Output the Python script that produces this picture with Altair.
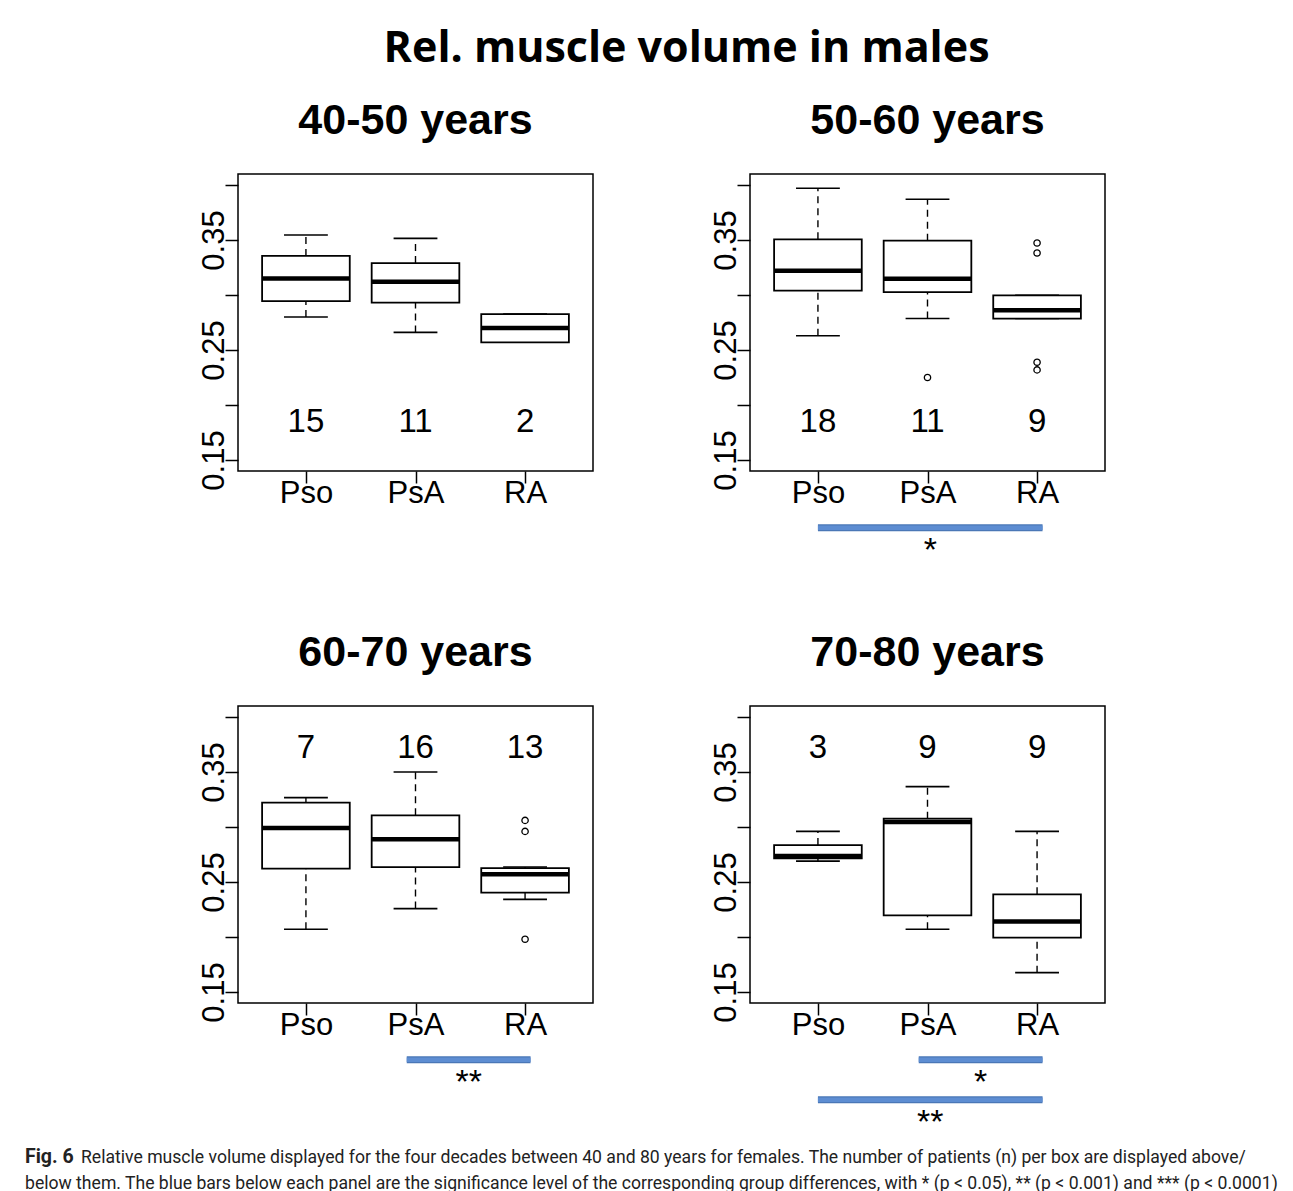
import json
import altair as alt
import pandas as pd

# ---------------- data ----------------
TITLE = "Rel. muscle volume in males"
PANELS = ["40-50 years", "50-60 years", "60-70 years", "70-80 years"]
GROUPS = ["Pso", "PsA", "RA"]

# per panel, per group (Pso, PsA, RA)
WHISK_LO = [[0.280, 0.266, 0.257], [0.263, 0.2786, 0.2786], [0.207, 0.2258, 0.2342], [0.269, 0.207, 0.1676]]
Q1 = [[0.2945, 0.293, 0.257], [0.304, 0.3027, 0.2786], [0.2621, 0.2636, 0.2403], [0.2715, 0.2197, 0.1994]]
MEDIAN = [[0.315, 0.312, 0.270], [0.322, 0.3148, 0.2861], [0.299, 0.2888, 0.257], [0.2736, 0.3045, 0.2142]]
Q3 = [[0.3355, 0.329, 0.2827], [0.3506, 0.3494, 0.2997], [0.3221, 0.3106, 0.2627], [0.2836, 0.3076, 0.2388]]
WHISK_HI = [[0.3545, 0.3515, 0.2827], [0.397, 0.387, 0.2997], [0.3267, 0.350, 0.2636], [0.296, 0.3367, 0.296]]
OUTLIER_GROUP = [[], ["PsA", "RA", "RA", "RA", "RA"], ["RA", "RA", "RA"], []]
OUTLIER_VALUE = [[], [0.225, 0.3473, 0.3382, 0.2389, 0.2319], [0.306, 0.296, 0.198], []]
N = [[15, 11, 2], [18, 11, 9], [7, 16, 13], [3, 9, 9]]
N_SIDE = ["below", "below", "above", "above"]
# significance bars: (from group, to group, label, level)
SIG_FROM = [[], ["Pso"], ["PsA"], ["PsA", "Pso"]]
SIG_TO = [[], ["RA"], ["RA"], ["RA", "RA"]]
SIG_LABEL = [[], ["*"], ["**"], ["*", "**"]]
SIG_LEVEL = [[], [1], [1], [1, 2]]

Y_TICKS = [0.15, 0.20, 0.25, 0.30, 0.35, 0.40]

CAPTION_BOLD = "Fig. 6"
CAPTION_1 = ("Relative muscle volume displayed for the four decades between 40 and 80 years for females. "
             "The number of patients (n) per box are displayed above/")
CAPTION_2 = ("below them. The blue bars below each panel are the significance level of the corresponding "
             "group differences, with * (p < 0.05), ** (p < 0.001) and *** (p < 0.0001)")

# ---------------- styling ----------------
W, H = 355, 297
FONT = "Liberation Sans"
BOX_HALF = 0.4
CAP_HALF = 0.2
N_Y = {"below": 0.185, "above": 0.372}
SIG_Y1 = 0.0885
SIG_STEP = 0.0365
SIG_EXT_LEFT = {"Pso": 0.0, "PsA": 0.08}
SIG_EXT_RIGHT = 0.05

xscale = alt.Scale(domain=[0.38, 3.62], nice=False, zero=False)
yscale = alt.Scale(domain=[0.14, 0.41], nice=False, zero=False)

xaxis = alt.Axis(values=[1, 2, 3], labelExpr=json.dumps(GROUPS) + "[datum.value - 1]",
                 domain=False, grid=False, tickSize=12, tickWidth=1.5, tickColor="black",
                 labelFont=FONT, labelFontSize=31, labelColor="black", labelBaseline="alphabetic",
                 labelPadding=19, title=None, labelOverlap=False)
yaxis = alt.Axis(values=Y_TICKS,
                 labelExpr="(round(datum.value*100) % 10 == 5) ? format(datum.value, '.2f') : ''",
                 domain=False, grid=False, tickSize=13, tickWidth=1.5, tickColor="black",
                 labelFont=FONT, labelFontSize=31, labelColor="black", labelAngle=270,
                 labelAlign="center", labelBaseline="alphabetic", labelPadding=2,
                 title=None, labelOverlap=False)


def X(f):
    return alt.X(f, type="quantitative", scale=xscale, axis=xaxis)


def Y(f):
    return alt.Y(f, type="quantitative", scale=yscale, axis=yaxis)


def panel(i):
    pos = {g: k + 1 for k, g in enumerate(GROUPS)}
    box = pd.DataFrame({"group": GROUPS, "pos": [pos[g] for g in GROUPS],
                        "lo": WHISK_LO[i], "q1": Q1[i], "med": MEDIAN[i],
                        "q3": Q3[i], "hi": WHISK_HI[i], "n": N[i]})
    box["left"] = box["pos"] - BOX_HALF
    box["right"] = box["pos"] + BOX_HALF
    box["cl"] = box["pos"] - CAP_HALF
    box["cr"] = box["pos"] + CAP_HALF
    box["ny"] = N_Y[N_SIDE[i]]

    base = alt.Chart(box)
    dash = dict(color="black", strokeWidth=1.4, strokeDash=[7, 5])
    layers = [
        base.mark_rule(**dash).encode(x=X("pos"), y=Y("q3"), y2="hi"),
        base.mark_rule(**dash).encode(x=X("pos"), y=Y("lo"), y2="q1"),
        base.mark_rule(color="black", strokeWidth=1.6).encode(x=X("cl"), x2="cr", y=Y("hi")),
        base.mark_rule(color="black", strokeWidth=1.6).encode(x=X("cl"), x2="cr", y=Y("lo")),
        base.mark_rect(fill="white", stroke="black", strokeWidth=1.8).encode(
            x=X("left"), x2="right", y=Y("q1"), y2="q3"),
        base.mark_rule(color="black", strokeWidth=4.5).encode(x=X("left"), x2="right", y=Y("med")),
        base.mark_text(font=FONT, fontSize=33, color="black", baseline="middle").encode(
            x=X("pos"), y=Y("ny"), text="n:N"),
    ]
    if OUTLIER_VALUE[i]:
        out = pd.DataFrame({"group": OUTLIER_GROUP[i], "value": OUTLIER_VALUE[i]})
        out["pos"] = out["group"].map(pos)
        layers.append(alt.Chart(out).mark_point(shape="circle", filled=False, color="black",
                                                size=40, strokeWidth=1.3, opacity=1).encode(
            x=X("pos"), y=Y("value")))
    if SIG_LABEL[i]:
        sig = pd.DataFrame({"a": SIG_FROM[i], "b": SIG_TO[i], "label": SIG_LABEL[i],
                            "level": SIG_LEVEL[i]})
        sig["x1"] = sig["a"].map(pos) - sig["a"].map(SIG_EXT_LEFT)
        sig["x2"] = sig["b"].map(pos) + SIG_EXT_RIGHT
        sig["xm"] = (sig["x1"] + sig["x2"]) / 2
        sig["y"] = SIG_Y1 - (sig["level"] - 1) * SIG_STEP
        sig["sy"] = sig["y"] - 0.006
        sb = alt.Chart(sig)
        layers += [
            sb.mark_rule(color="#4a77b6", strokeWidth=7).encode(x=X("x1"), x2="x2", y=Y("y")),
            sb.mark_rule(color="#5d8dd2", strokeWidth=4.5).encode(x=X("x1"), x2="x2", y=Y("y")),
            sb.mark_text(font=FONT, fontSize=34, color="black", baseline="top").encode(
                x=X("xm"), y=Y("sy"), text="label:N"),
        ]
    return alt.layer(*layers).properties(
        width=W, height=H,
        title=alt.TitleParams(PANELS[i], font=FONT, fontSize=43, fontWeight="bold",
                              color="black", anchor="middle", baseline="bottom", offset=-12),
    )


grid = alt.concat(*[panel(i) for i in range(4)], columns=2,
                  spacing=alt.RowColnumber(row=235, column=157), bounds="flush")

cap = pd.DataFrame({"line": [1, 1, 2], "part": ["bold", "rest", "rest"],
                    "text": [CAPTION_BOLD, CAPTION_1, CAPTION_2]})
capbase = alt.Chart(cap)
CAPFONT = "Roboto"
CAPSIZE = 17.6
caption = alt.layer(
    capbase.transform_filter("datum.part == 'bold'").mark_text(
        font=CAPFONT, fontSize=19.5, fontWeight="bold", align="left", baseline="alphabetic",
        color="#222222", dx=-213).encode(x=alt.value(0), y=alt.value(21), text="text:N"),
    capbase.transform_filter("datum.part == 'rest' && datum.line == 1").mark_text(
        font=CAPFONT, fontSize=CAPSIZE, align="left", baseline="alphabetic",
        color="#222222", dx=-157).encode(x=alt.value(0), y=alt.value(21), text="text:N"),
    capbase.transform_filter("datum.line == 2").mark_text(
        font=CAPFONT, fontSize=CAPSIZE, align="left", baseline="alphabetic",
        color="#222222", dx=-213).encode(x=alt.value(0), y=alt.value(47), text="text:N"),
).properties(width=W, height=50, view=alt.ViewBackground(strokeOpacity=0))

chart = alt.vconcat(grid, caption, spacing=0).properties(
    title=alt.TitleParams(TITLE, font="Open Sans", fontSize=43, fontWeight="bold", color="black",
                          anchor="middle", baseline="bottom", offset=-15, dx=35),
    padding={"left": 17, "top": 20, "right": 5, "bottom": 5},
).configure_view(stroke="black", strokeWidth=1.5)

chart.save("out.html", embed_options={"renderer": "svg", "actions": False})
